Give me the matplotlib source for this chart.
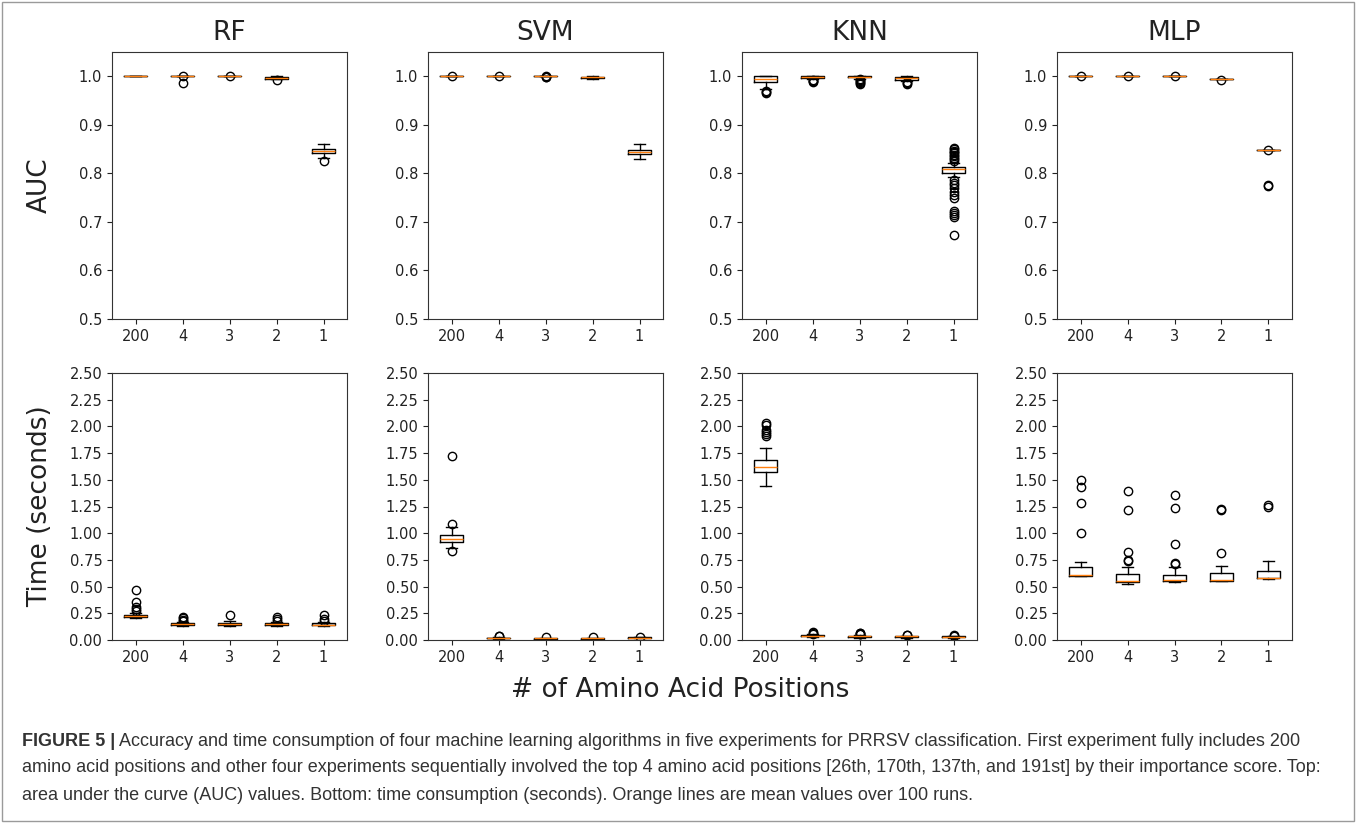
"""Boxplots of AUC and run time for four classifiers over five feature-set sizes."""

import matplotlib

matplotlib.use("Agg")
import matplotlib.pyplot as plt
from matplotlib.patches import Rectangle

POSITIONS = ["200", "4", "3", "2", "1"]
MODELS = ["RF", "SVM", "KNN", "MLP"]

# per category: (q1, med, q3, whislo, whishi)
RF_AUC = [(1.0, 1.0, 1.0, 1.0, 1.0), (1.0, 1.0, 1.0, 1.0, 1.0), (1.0, 1.0, 1.0, 1.0, 1.0),
          (0.995, 0.997, 0.998, 0.994, 1.0), (0.841, 0.846, 0.851, 0.832, 0.861)]
RF_AUC_FLIERS = [[], [1.0, 0.987], [1.0], [0.992], [0.826]]
SVM_AUC = [(1.0, 1.0, 1.0, 1.0, 1.0), (1.0, 1.0, 1.0, 1.0, 1.0), (1.0, 1.0, 1.0, 1.0, 1.0),
           (0.996, 0.998, 0.999, 0.994, 1.0), (0.840, 0.844, 0.849, 0.829, 0.861)]
SVM_AUC_FLIERS = [[1.0], [1.0], [1.0, 0.999, 0.998], [], []]
KNN_AUC = [(0.988, 0.994, 1.0, 0.973, 1.0), (0.997, 0.999, 1.0, 0.994, 1.0),
           (0.998, 0.999, 1.0, 0.995, 1.0), (0.993, 0.996, 0.999, 0.990, 1.0),
           (0.800, 0.808, 0.813, 0.792, 0.821)]
KNN_AUC_FLIERS = [[0.970, 0.968, 0.966], [0.992, 0.991, 0.990, 0.989],
                  [0.994, 0.992, 0.990, 0.988, 0.986, 0.985],
                  [0.988, 0.986, 0.984],
                  [0.853, 0.850, 0.847, 0.844, 0.841, 0.838, 0.835, 0.832, 0.829, 0.826,
                   0.786, 0.781, 0.776, 0.770, 0.762, 0.756, 0.749,
                   0.722, 0.718, 0.714, 0.711, 0.673]]
MLP_AUC = [(1.0, 1.0, 1.0, 1.0, 1.0), (1.0, 1.0, 1.0, 1.0, 1.0), (1.0, 1.0, 1.0, 1.0, 1.0),
           (0.994, 0.994, 0.994, 0.994, 0.994), (0.848, 0.848, 0.848, 0.848, 0.848)]
MLP_AUC_FLIERS = [[1.0], [1.0], [1.0], [0.993], [0.848, 0.777, 0.773]]

RF_TIME = [(0.215, 0.225, 0.232, 0.205, 0.255), (0.140, 0.150, 0.155, 0.130, 0.165),
           (0.140, 0.150, 0.160, 0.130, 0.175), (0.140, 0.148, 0.155, 0.130, 0.170),
           (0.140, 0.145, 0.155, 0.130, 0.170)]
RF_TIME_FLIERS = [[0.27, 0.29, 0.31, 0.36, 0.47], [0.18, 0.19, 0.21, 0.22], [0.235],
                  [0.18, 0.20, 0.215], [0.18, 0.20, 0.235]]
SVM_TIME = [(0.920, 0.950, 0.985, 0.865, 1.060), (0.015, 0.020, 0.022, 0.010, 0.030),
            (0.012, 0.015, 0.018, 0.010, 0.020), (0.012, 0.015, 0.018, 0.010, 0.022),
            (0.018, 0.022, 0.025, 0.015, 0.028)]
SVM_TIME_FLIERS = [[0.835, 1.09, 1.72], [0.035, 0.04], [0.025], [0.03], [0.03]]
KNN_TIME = [(1.57, 1.62, 1.69, 1.44, 1.80), (0.035, 0.040, 0.045, 0.025, 0.055),
            (0.030, 0.035, 0.040, 0.020, 0.050), (0.030, 0.035, 0.038, 0.022, 0.042),
            (0.025, 0.030, 0.033, 0.018, 0.038)]
KNN_TIME_FLIERS = [[1.91, 1.93, 1.95, 1.97, 2.01, 2.03], [0.06, 0.07, 0.075],
                   [0.055, 0.06, 0.065, 0.07], [0.045, 0.05], [0.04, 0.05]]
MLP_TIME = [(0.600, 0.605, 0.680, 0.600, 0.735), (0.540, 0.550, 0.615, 0.525, 0.686),
            (0.550, 0.560, 0.610, 0.545, 0.680), (0.552, 0.560, 0.624, 0.550, 0.693),
            (0.580, 0.585, 0.650, 0.575, 0.740)]
MLP_TIME_FLIERS = [[1.005, 1.286, 1.436, 1.498], [0.74, 0.75, 0.824, 1.217, 1.398],
                   [0.71, 0.72, 0.899, 1.24, 1.355], [0.81, 1.22, 1.23], [1.25, 1.26]]

AUC = [RF_AUC, SVM_AUC, KNN_AUC, MLP_AUC]
AUC_FLIERS = [RF_AUC_FLIERS, SVM_AUC_FLIERS, KNN_AUC_FLIERS, MLP_AUC_FLIERS]
TIME = [RF_TIME, SVM_TIME, KNN_TIME, MLP_TIME]
TIME_FLIERS = [RF_TIME_FLIERS, SVM_TIME_FLIERS, KNN_TIME_FLIERS, MLP_TIME_FLIERS]

CAPTION_BOLD = "FIGURE 5 |"
CAPTION_LINES = [
    " Accuracy and time consumption of four machine learning algorithms in five experiments "
    "for PRRSV classification. First experiment fully includes 200",
    "amino acid positions and other four experiments sequentially involved the top 4 amino acid "
    "positions [26th, 170th, 137th, and 191st] by their importance score. Top:",
    "area under the curve (AUC) values. Bottom: time consumption (seconds). "
    "Orange lines are mean values over 100 runs.",
]

W, H = 1357, 823
TXT = "#222222"


def make_stats(boxes, fliers):
    out = []
    for lab, (q1, med, q3, lo, hi), fl in zip(POSITIONS, boxes, fliers):
        out.append(dict(label=lab, q1=q1, med=med, q3=q3, whislo=lo, whishi=hi, fliers=fl))
    return out


def px_axes(fig, left, top, right, bottom):
    return fig.add_axes([left / W, 1 - bottom / H, (right - left) / W, (bottom - top) / H])


def style(ax):
    ax.tick_params(labelsize=10.5, colors=TXT, length=3.5)
    for sp in ax.spines.values():
        sp.set_color("#333333")


fig = plt.figure(figsize=(W / 100, H / 100), dpi=100)

lefts = [112, 428, 742, 1057]
width = 235
for i, name in enumerate(MODELS):
    l = lefts[i]
    ax = px_axes(fig, l, 52, l + width, 319)
    ax.bxp(make_stats(AUC[i], AUC_FLIERS[i]), showfliers=True,
           medianprops=dict(color="#ff7f0e"))
    ax.set_ylim(0.5, 1.05)
    ax.set_yticks([0.5, 0.6, 0.7, 0.8, 0.9, 1.0])
    ax.set_yticklabels([f"{v:.1f}" for v in [0.5, 0.6, 0.7, 0.8, 0.9, 1.0]])
    ax.set_title(name, fontsize=19, color=TXT, pad=9)
    style(ax)

    ax2 = px_axes(fig, l, 373, l + width, 640)
    ax2.bxp(make_stats(TIME[i], TIME_FLIERS[i]), showfliers=True,
            medianprops=dict(color="#ff7f0e"))
    ax2.set_ylim(0, 2.5)
    ticks = [0.25 * k for k in range(11)]
    ax2.set_yticks(ticks)
    ax2.set_yticklabels([f"{v:.2f}" for v in ticks])
    style(ax2)

fig.text(40 / W, 1 - 185 / H, "AUC", rotation=90, fontsize=19, color=TXT,
         ha="center", va="center")
fig.text(40 / W, 1 - 506 / H, "Time (seconds)", rotation=90, fontsize=19, color=TXT,
         ha="center", va="center")
fig.text(680 / W, 1 - 690 / H, "# of Amino Acid Positions", fontsize=19, color=TXT,
         ha="center", va="center")

# caption, first words in bold
cap_kw = dict(fontsize=13, color="#333333", family="Liberation Sans", va="center")
x0 = 22 / W
bold = fig.text(x0, 1 - 742 / H, CAPTION_BOLD, fontweight="bold", **cap_kw)
fig.canvas.draw()
bb = bold.get_window_extent(renderer=fig.canvas.get_renderer())
fig.text(bb.x1 / W, 1 - 742 / H, CAPTION_LINES[0], **cap_kw)
fig.text(x0, 1 - 768 / H, CAPTION_LINES[1], **cap_kw)
fig.text(x0, 1 - 795 / H, CAPTION_LINES[2], **cap_kw)

fig.patches.append(Rectangle((2 / W, 2 / H), (W - 5) / W, (H - 4) / H, fill=False,
                             edgecolor="#9a9a9a", linewidth=1.0,
                             transform=fig.transFigure, figure=fig))

fig.savefig("out.png", dpi=100)
plt.close(fig)
